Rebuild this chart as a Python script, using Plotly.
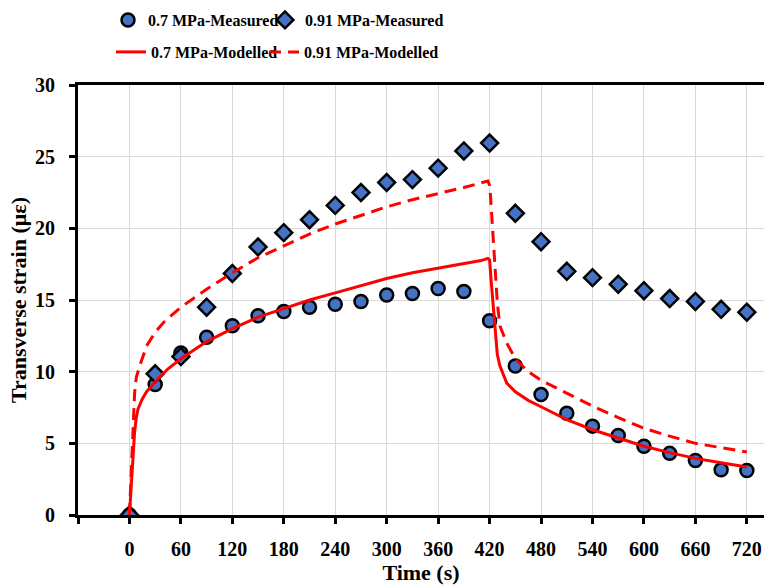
import plotly.graph_objects as go

# ---------------- data ----------------
time_meas = [0, 30, 60, 90, 120, 150, 180, 210, 240, 270, 300, 330, 360, 390,
             420, 450, 480, 510, 540, 570, 600, 630, 660, 690, 720]
meas_07 = [0, 9.1, 11.3, 12.4, 13.2, 13.9, 14.2, 14.5, 14.7, 14.9, 15.35, 15.45,
           15.8, 15.6, 13.55, 10.4, 8.4, 7.1, 6.2, 5.55, 4.8, 4.3, 3.8, 3.15, 3.1]
meas_091 = [0, 9.85, 11.05, 14.5, 16.85, 18.7, 19.7, 20.6, 21.6, 22.5, 23.2, 23.4,
            24.2, 25.4, 25.95, 21.05, 19.07, 17.0, 16.56, 16.1, 15.65, 15.1, 14.9,
            14.35, 14.15]

time_mod07 = [0, 2, 4, 6, 8, 10, 15, 20, 30, 45, 60, 90, 120, 150, 180, 210, 240,
              270, 300, 330, 360, 390, 410, 418, 420, 422, 424, 426, 427, 429, 432,
              440, 450, 465, 480, 510, 540, 570, 600, 630, 660, 690, 720]
mod_07 = [0, 2.0, 4.0, 5.8, 6.8, 7.4, 8.1, 8.6, 9.3, 10.2, 10.9, 12.1, 13.0, 13.8,
          14.4, 15.0, 15.5, 16.0, 16.5, 16.9, 17.2, 17.5, 17.75, 17.9, 17.8, 16.2,
          14.6, 13.0, 12.2, 11.2, 10.4, 9.2, 8.6, 8.0, 7.55, 6.65, 5.95, 5.35, 4.8,
          4.35, 3.95, 3.65, 3.35]

time_mod091 = [0, 2, 4, 6, 8, 12, 20, 30, 40, 60, 90, 120, 150, 180, 210, 240, 270,
               300, 330, 360, 390, 418, 420, 421, 423, 425, 427, 429, 432, 440, 450,
               465, 480, 510, 540, 570, 600, 630, 660, 690, 720]
mod_091 = [0, 2.5, 6.0, 8.5, 9.6, 10.4, 11.8, 12.75, 13.45, 14.5, 15.75, 16.9, 17.95,
           18.8, 19.6, 20.3, 20.9, 21.5, 22.0, 22.4, 22.85, 23.3, 23.0, 22.3, 20.5,
           18.5, 16.5, 14.8, 13.2, 12.0, 10.9, 10.0, 9.4, 8.5, 7.6, 6.8, 6.05, 5.5,
           5.0, 4.7, 4.4]

x_ticks = [-60, 0, 60, 120, 180, 240, 300, 360, 420, 480, 540, 600, 660, 720]
x_ticktext = [""] + [str(v) for v in x_ticks[1:]]
y_ticks = [0, 5, 10, 15, 20, 25, 30]

# ---------------- figure ----------------
BLUE = "#4472C4"
RED = "#FF0000"
FONT = "Liberation Serif"

fig = go.Figure()
fig.add_trace(go.Scatter(
    x=time_meas, y=meas_07, mode="markers", name="0.7 MPa-Measured",
    marker=dict(symbol="circle", size=13, color=BLUE, line=dict(color="black", width=2.5)),
    legend="legend"))
fig.add_trace(go.Scatter(
    x=time_meas, y=meas_091, mode="markers", name="0.91 MPa-Measured",
    marker=dict(symbol="diamond", size=13, color=BLUE, line=dict(color="black", width=2.5)),
    legend="legend2"))
fig.add_trace(go.Scatter(
    x=time_mod07, y=mod_07, mode="lines", name="0.7 MPa-Modelled",
    line=dict(color=RED, width=3), legend="legend3"))
fig.add_trace(go.Scatter(
    x=time_mod091, y=mod_091, mode="lines", name="0.91 MPa-Modelled",
    line=dict(color=RED, width=3, dash="12px,7px"), legend="legend4"))

L, R, T, B = 78, 0, 85, 70
W, H = 764, 585
pw = W - L - R
ph = H - T - B


def px_x(p):
    return (p - L) / pw


def px_y(p):
    return (H - B - p) / ph


legfont = dict(family=FONT, size=16, color="black", weight="bold")
common = dict(orientation="h", yanchor="middle", xanchor="left", font=legfont,
              bgcolor="rgba(0,0,0,0)", borderwidth=0, itemsizing="trace")

fig.update_layout(
    width=W, height=H,
    margin=dict(l=L, r=R, t=T, b=B),
    paper_bgcolor="white", plot_bgcolor="white",
    showlegend=True,
    legend=dict(x=px_x(108), y=px_y(20), **common),
    legend2=dict(x=px_x(265), y=px_y(20), **common),
    legend3=dict(x=px_x(111), y=px_y(52), **common),
    legend4=dict(x=px_x(264), y=px_y(52), **common),
    font=dict(family=FONT, color="black"),
)

fig.update_xaxes(
    range=[-60, 740], tickmode="array", tickvals=x_ticks, ticktext=x_ticktext,
    showgrid=True, gridcolor="#d9d9d9", gridwidth=1.3,
    showline=True, linecolor="black", linewidth=3, mirror=True,
    ticks="outside", ticklen=6, tickwidth=2.5, tickcolor="black",
    tickfont=dict(family=FONT, size=20, color="black", weight="bold"),
    ticklabelstandoff=8,
    zeroline=False,
    title=dict(text="Time (s)", font=dict(family=FONT, size=22, color="black", weight="bold"),
               standoff=6),
)
fig.update_yaxes(
    range=[0, 30], tickmode="array", tickvals=y_ticks,
    showgrid=True, gridcolor="#d9d9d9", gridwidth=1.3,
    showline=True, linecolor="black", linewidth=3,
    ticks="outside", ticklen=6, tickwidth=2.5, tickcolor="black",
    tickfont=dict(family=FONT, size=20, color="black", weight="bold"),
    ticklabelstandoff=10,
    zeroline=False,
    title=dict(text="Transverse strain (με)", font=dict(family=FONT, size=22, color="black", weight="bold"),
               standoff=3),
)

fig.write_html("out.html")
